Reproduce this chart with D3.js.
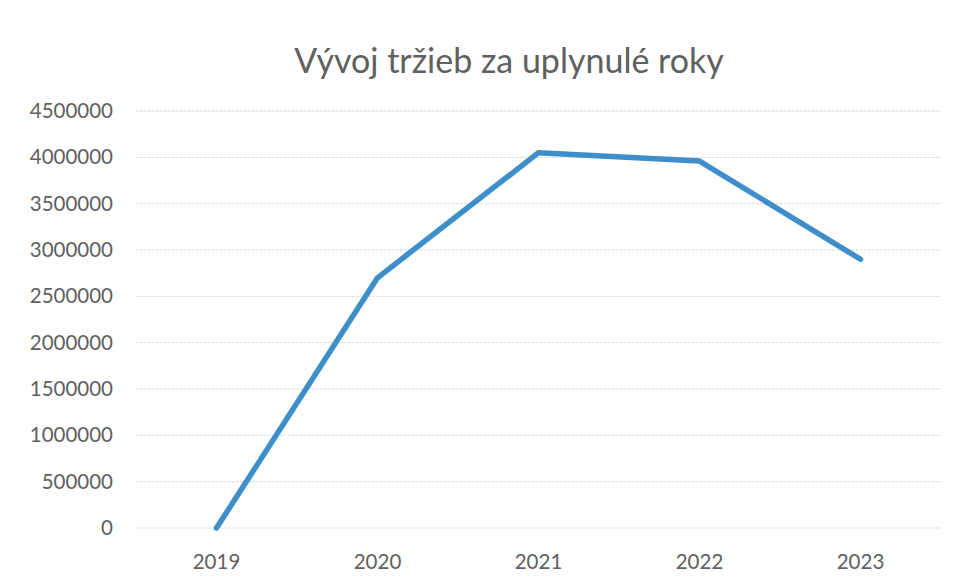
<!DOCTYPE html>
<html><head><meta charset="utf-8">
<script src="https://cdn.jsdelivr.net/npm/d3@7"></script>
<style>body{margin:0;background:#fff}svg{display:block}text{font-family:Lato,"Open Sans",sans-serif}</style>
</head><body><svg id="c" width="961" height="584"></svg>
<script>
const years = ["2019","2020","2021","2022","2023"];
const revenue = [0, 2700000, 4050000, 3960000, 2900000];
const yTicks = [0,500000,1000000,1500000,2000000,2500000,3000000,3500000,4000000,4500000];
const title = "Vývoj tržieb za uplynulé roky";

const svg = d3.select("#c");
const x = d3.scaleBand().domain(years).range([136, 941]);
const y = d3.scaleLinear().domain([0, 4500000]).range([528, 111]);

svg.append("g").selectAll("line").data(yTicks).join("line")
  .attr("x1", 136).attr("x2", 941)
  .attr("y1", d => y(d)).attr("y2", d => y(d))
  .attr("stroke", "#dcdcdc").attr("stroke-width", 1).attr("stroke-dasharray", "3,1");

const ya = svg.append("g").attr("transform", "translate(113,0)")
  .call(d3.axisLeft(y).tickValues(yTicks).tickFormat(d3.format("d")).tickSize(0).tickPadding(0));
ya.select(".domain").remove();
ya.selectAll("text").attr("font-size", 20.5).attr("fill", "#606060").style("font-family","Lato,sans-serif");

const xa = svg.append("g").attr("transform", "translate(0,554)")
  .call(d3.axisBottom(x).tickSize(0).tickPadding(0));
xa.select(".domain").remove();
xa.selectAll("text").attr("font-size", 20.5).attr("fill", "#606060").attr("dy", "0.71em").style("font-family","Lato,sans-serif");

const line = d3.line().x((d, i) => x(years[i]) + x.bandwidth() / 2).y(d => y(d));
svg.append("path").datum(revenue).attr("d", line)
  .attr("fill", "none").attr("stroke", "#3d8ec9").attr("stroke-width", 5.5)
  .attr("stroke-linejoin", "round").attr("stroke-linecap", "round");

svg.append("text").attr("x", 509).attr("y", 73).attr("text-anchor", "middle")
  .attr("font-size", 34).attr("fill", "#606060").text(title);
</script></body></html>
